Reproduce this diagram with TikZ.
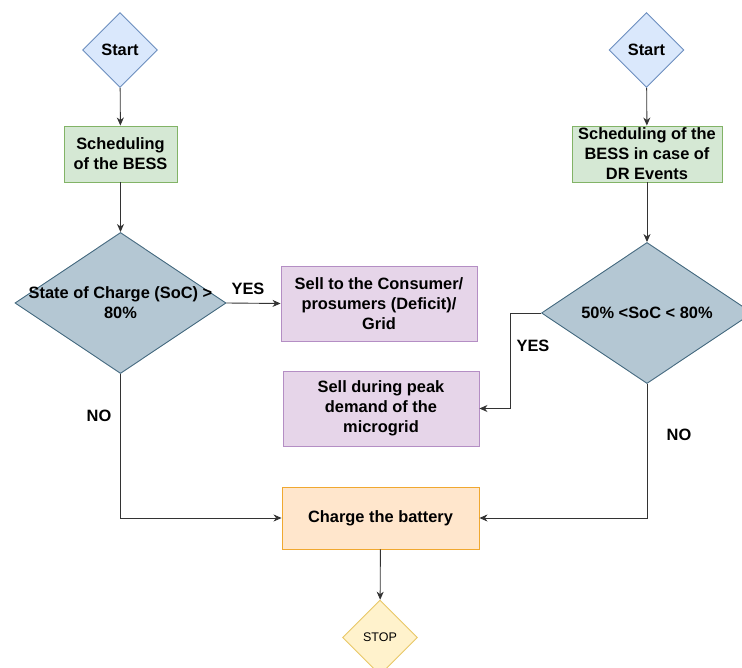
\documentclass[tikz,border=0pt]{standalone}
\usepackage{fontspec}
\setmainfont{Liberation Sans}
\usetikzlibrary{shapes.geometric,arrows.meta}

\definecolor{startfill}{HTML}{DAE8FC}
\definecolor{startline}{HTML}{6C8EBF}
\definecolor{schedfill}{HTML}{D5E8D4}
\definecolor{schedline}{HTML}{82B366}
\definecolor{decfill}{HTML}{B4C7D3}
\definecolor{decline}{HTML}{44697F}
\definecolor{sellfill}{HTML}{E6D5E9}
\definecolor{sellline}{HTML}{B48EC4}
\definecolor{chgfill}{HTML}{FFE6CC}
\definecolor{chgline}{HTML}{F0A830}
\definecolor{stopfill}{HTML}{FFF2CC}
\definecolor{stopline}{HTML}{E8C766}
\definecolor{wire}{HTML}{333333}

\tikzset{
  every node/.style={font=\fontsize{16.4}{20}\selectfont\bfseries, align=center},
  startdia/.style={diamond, draw=startline, fill=startfill, line width=0.9pt,
    minimum width=75pt, minimum height=75pt, inner sep=0pt},
  stopdia/.style={diamond, draw=stopline, fill=stopfill, line width=0.9pt,
    minimum width=75pt, minimum height=75pt, inner sep=0pt},
  decdia/.style={diamond, draw=decline, fill=decfill, line width=0.9pt,
    minimum width=211pt, minimum height=141pt, inner sep=0pt},
  schedbox/.style={rectangle, draw=schedline, fill=schedfill, line width=0.9pt,
    minimum height=56pt, inner sep=0pt},
  sellbox/.style={rectangle, draw=sellline, fill=sellfill, line width=0.9pt,
    minimum width=196pt, minimum height=75pt, inner sep=0pt},
  chgbox/.style={rectangle, draw=chgline, fill=chgfill, line width=0.9pt,
    minimum width=197pt, minimum height=62pt, inner sep=0pt},
  flow/.style={draw=wire, line width=0.9pt, -{Stealth[length=8pt,width=7pt,inset=2.5pt]}},
  tag/.style={inner sep=0pt}
}

\begin{document}
\begin{tikzpicture}[x=1pt, y=-1pt]
  \useasboundingbox (0,0) rectangle (742,668);

  % left branch
  \node[startdia] (s1) at (120,50) {Start};
  \node[schedbox, minimum width=113pt] (g1) at (120.5,154) {Scheduling\\of the BESS};
  \node[decdia] (d1) at (120.5,303) {};
  \node (d1t) at (d1.center) {State of Charge (SoC) >\\80\%};
  \node[sellbox] (p1) at (379,303.5) {Sell to the Consumer/\\prosumers (Deficit)/\\Grid};

  % right branch
  \node[startdia] (s2) at (646.5,50) {Start};
  \node[schedbox, minimum width=150pt] (g2) at (647,154) {Scheduling of the\\BESS in case of\\DR Events};
  \node[decdia] (d2) at (647,313) {};
  \node (d2t) at (d2.center) {50\% <SoC < 80\%};
  \node[sellbox] (p2) at (381,408.5) {Sell during peak\\demand of the\\microgrid};

  % common end
  \node[chgbox] (c) at (380.5,518) {Charge the battery};
  \node[stopdia, font=\fontsize{12.5}{14}\selectfont\mdseries] (e) at (380,637.5) {STOP};

  \coordinate (bend) at (510,313);

  % connectors
  \draw[flow] (s1) -- (g1);
  \draw[flow] (g1) -- (d1);
  \draw[flow] (d1.east) -- (p1.west);
  \draw[flow] (d1.south) |- (c.west);

  \draw[flow] (s2) -- (g2);
  \draw[flow] (g2) -- (d2);
  \draw[flow] (d2.west) -- (bend) |- (p2.east);
  \draw[flow] (d2.south) |- (c.east);

  \draw[flow] (c) -- (e);

  % branch labels
  \node[tag] at (248,289) {YES};
  \node[tag] at (99,416) {NO};
  \node[tag] at (533,346) {YES};
  \node[tag] at (679,435) {NO};
\end{tikzpicture}
\end{document}
